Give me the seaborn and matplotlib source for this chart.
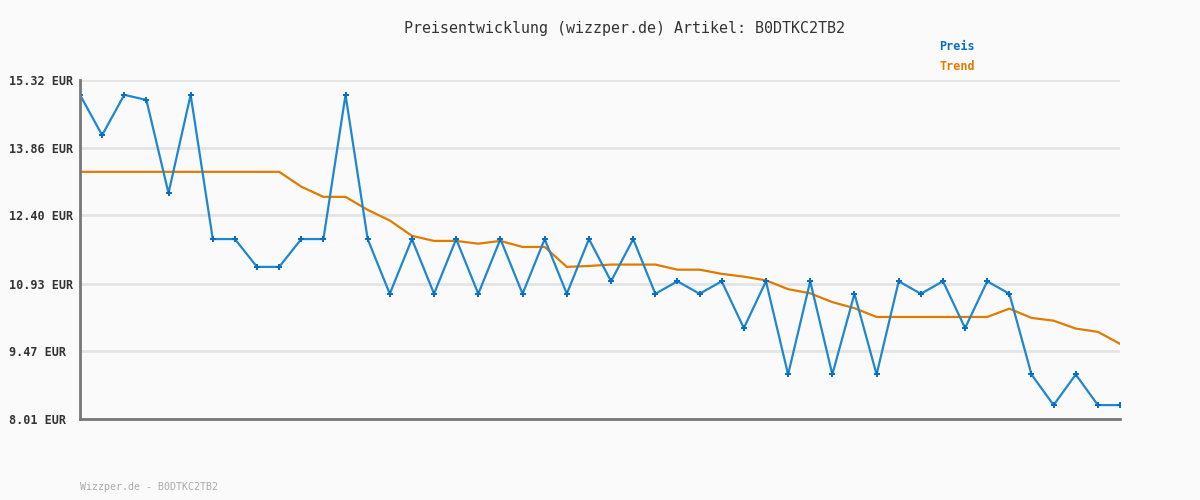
import matplotlib
matplotlib.use("Agg")
import matplotlib.pyplot as plt
import seaborn as sns
import pandas as pd
import numpy as np

# ---- data ----
preis = [15.00, 14.13, 15.00, 14.89, 12.88, 15.00, 11.89, 11.89, 11.29, 11.29,
         11.89, 11.89, 15.00, 11.89, 10.71, 11.89, 10.71, 11.89, 10.71, 11.89,
         10.71, 11.89, 10.71, 11.89, 10.98, 11.89, 10.71, 10.98, 10.71, 10.98,
         9.97, 10.98, 8.97, 10.98, 8.97, 10.71, 8.97, 10.98, 10.71, 10.98,
         9.97, 10.98, 10.71, 8.97, 8.31, 8.97, 8.31, 8.31]
trend = [13.34, 13.34, 13.34, 13.34, 13.34, 13.34, 13.34, 13.34, 13.34, 13.34,
         13.02, 12.80, 12.80, 12.52, 12.29, 11.96, 11.85, 11.85, 11.79, 11.85,
         11.72, 11.72, 11.29, 11.31, 11.34, 11.34, 11.34, 11.23, 11.23, 11.14,
         11.08, 11.00, 10.81, 10.72, 10.53, 10.40, 10.21, 10.21, 10.21, 10.21,
         10.21, 10.21, 10.39, 10.19, 10.13, 9.96, 9.89, 9.63]
y_ticks = [8.01, 9.47, 10.93, 12.40, 13.86, 15.32]
y_labels = ["8.01 EUR", "9.47 EUR", "10.93 EUR", "12.40 EUR", "13.86 EUR", "15.32 EUR"]
title = "Preisentwicklung (wizzper.de) Artikel: B0DTKC2TB2"
footer = "Wizzper.de - B0DTKC2TB2"
series_names = ["Preis", "Trend"]

BLUE = "#1f86d0"
BLUE_M = "#0a6fc0"
ORANGE = "#e07b00"
BG = "#fafafa"

sns.set_theme(style="white")
plt.rcParams['font.family'] = ['DejaVu Sans Mono']

idx = np.arange(len(preis))
df = pd.DataFrame({"i": idx, "Preis": preis, "Trend": trend})

fig = plt.figure(figsize=(12, 5), dpi=100, facecolor=BG)
ax = fig.add_axes([80/1200, 81/500, 1040/1200, 339/500])
ax.set_facecolor(BG)

sns.lineplot(data=df, x="i", y="Trend", ax=ax, color=ORANGE, linewidth=1.6)
sns.lineplot(data=df, x="i", y="Preis", ax=ax, color=BLUE, linewidth=1.6,
             marker="P", markersize=4.5, markeredgewidth=0, markerfacecolor=BLUE_M)

ax.set_xlim(0, len(preis) - 1)
ax.set_ylim(y_ticks[0], y_ticks[-1])
ax.set_xticks([])
ax.set_yticks(y_ticks)
ax.set_yticklabels(y_labels, fontsize=8.5, fontweight="bold", color="#333333")
for lbl in ax.get_yticklabels():
    lbl.set_horizontalalignment("left")
ax.tick_params(axis="y", length=0, pad=51)
ax.set_xlabel("")
ax.set_ylabel("")
ax.grid(axis="y", color="#e4e4e4", linewidth=2)
ax.set_axisbelow(True)
for s in ["top", "right"]:
    ax.spines[s].set_visible(False)
for s in ["left", "bottom"]:
    ax.spines[s].set_color("#777777")
    ax.spines[s].set_linewidth(2)
    ax.spines[s].set_zorder(5)

fig.text(624/1200, 1 - 28/500, title, ha="center", va="center", fontsize=10.8, color="#333333")
fig.text(939/1200, 1 - 46/500, series_names[0], ha="left", va="center", fontsize=8.5,
         fontweight="bold", color=BLUE_M)
fig.text(939/1200, 1 - 67/500, series_names[1], ha="left", va="center", fontsize=8.5,
         fontweight="bold", color=ORANGE)
fig.text(80/1200, 1 - 487/500, footer, ha="left", va="center", fontsize=7.2, color="#aaaaaa")

fig.savefig("out.png", dpi=100, facecolor=BG)
